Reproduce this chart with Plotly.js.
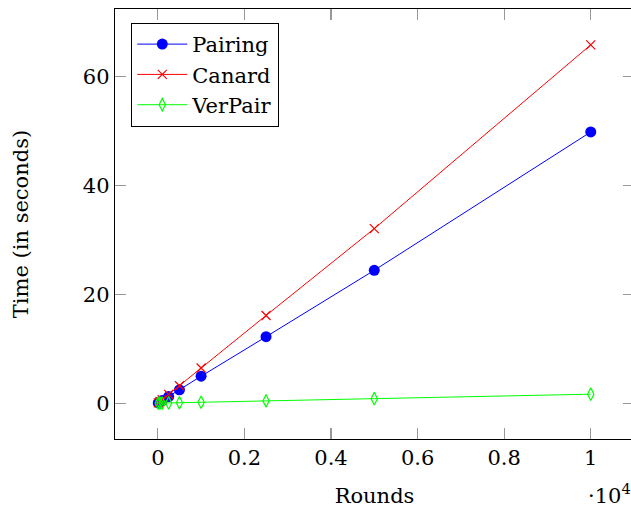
<!DOCTYPE html>
<html>
<head>
<meta charset="utf-8">
<script src="https://cdn.plot.ly/plotly-3.0.1.min.js"></script>
<style>
html,body{margin:0;padding:0;overflow:hidden;background:#fff;}
#chart{width:640px;height:508px;}
</style>
</head>
<body>
<div id="chart"></div>
<script>
const rounds = [10, 50, 100, 250, 500, 1000, 2500, 5000, 10000];
const pairing = [0.05, 0.25, 0.5, 1.22, 2.45, 4.95, 12.2, 24.4, 49.8];
const canard = [0.066, 0.33, 0.66, 1.62, 3.2, 6.45, 16.1, 32.05, 65.8];
const verpair = [0.002, 0.008, 0.017, 0.042, 0.085, 0.17, 0.42, 0.83, 1.65];
const xTickVals = [0, 2000, 4000, 6000, 8000, 10000];
const xTickText = ["0", "0.2", "0.4", "0.6", "0.8", "1"];
const yTickVals = [0, 20, 40, 60];

const FONT = "'DejaVu Serif', serif";
const FS = 21;

const traces = [
  {x: rounds, y: pairing, name: "Pairing", mode: "lines+markers", type: "scatter",
   line: {color: "#0000ff", width: 1},
   marker: {symbol: "circle", size: 11, color: "#0000ff"}},
  {x: rounds, y: canard, name: "Canard", mode: "lines+markers", type: "scatter",
   line: {color: "#ff0000", width: 1},
   marker: {symbol: "x-thin-open", size: 9, color: "#ff0000", line: {color: "#ff0000", width: 1.2}}},
  {x: rounds, y: verpair, name: "VerPair", mode: "lines+markers", type: "scatter",
   line: {color: "#00ff00", width: 1},
   marker: {symbol: "diamond-tall-open", size: 9, color: "#00ff00", line: {color: "#00ff00", width: 1.2}}}
];

const axisCommon = {
  showgrid: false, zeroline: false,
  showline: true, linecolor: "#000", linewidth: 1.2, mirror: "ticks",
  ticks: "inside", ticklen: 11, tickcolor: "#999", tickwidth: 1.2,
  tickfont: {family: FONT, size: FS, color: "#000"}
};

const layout = {
  width: 640, height: 508,
  margin: {l: 115, r: 6, t: 9, b: 69},
  paper_bgcolor: "#fff", plot_bgcolor: "#fff",
  font: {family: FONT, size: FS, color: "#000"},
  showlegend: true,
  legend: {x: 0.031, y: 0.968, xanchor: "left", yanchor: "top",
           bgcolor: "#fff", bordercolor: "#000", borderwidth: 1.2,
           font: {family: FONT, size: FS, color: "#000"}, itemwidth: 50,
           entrywidth: 150, entrywidthmode: "pixels",
           tracegroupgap: 0},
  xaxis: Object.assign({}, axisCommon, {
    range: [-989, 10999], tickmode: "array", tickvals: xTickVals, ticktext: xTickText,
    title: {text: "Rounds", font: {family: FONT, size: FS, color: "#000"}, standoff: 29}
  }),
  yaxis: Object.assign({}, axisCommon, {
    range: [-6.58, 72.38], tickmode: "array", tickvals: yTickVals,
    title: {text: "Time (in seconds)", font: {family: FONT, size: FS, color: "#000"}, standoff: 48}
  }),
  annotations: [
    {text: "·10<sup>4</sup>", xref: "paper", yref: "paper", x: 0.908, y: -0.128,
     xanchor: "left", yanchor: "middle", showarrow: false,
     font: {family: FONT, size: FS, color: "#000"}}
  ]
};

Plotly.newPlot("chart", traces, layout, {displayModeBar: false, staticPlot: true});
</script>
</body>
</html>
